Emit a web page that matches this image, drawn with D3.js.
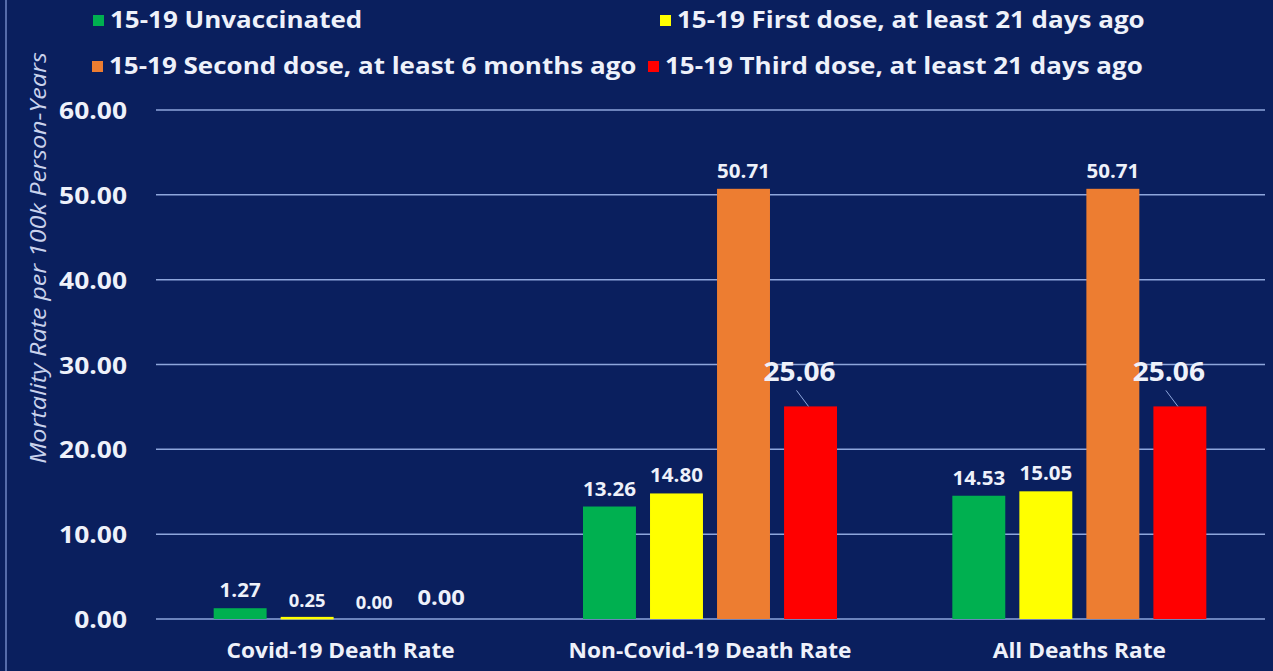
<!DOCTYPE html>
<html><head><meta charset="utf-8">
<script src="https://cdn.jsdelivr.net/npm/d3@7"></script>
<style>html,body{margin:0;padding:0;background:#0a1f5e;overflow:hidden}</style>
</head><body>
<svg id="c" width="1273" height="671"></svg>
<script>
const categories = ["Covid-19 Death Rate", "Non-Covid-19 Death Rate", "All Deaths Rate"];
const seriesNames = ["15-19 Unvaccinated", "15-19 First dose, at least 21 days ago", "15-19 Second dose, at least 6 months ago", "15-19 Third dose, at least 21 days ago"];
const unvaccinated = [1.27, 13.26, 14.53];
const firstDose = [0.25, 14.80, 15.05];
const secondDose = [0.00, 50.71, 50.71];
const thirdDose = [0.00, 25.06, 25.06];
const yTicks = [0, 10, 20, 30, 40, 50, 60];
const colors = ["#00b050", "#ffff00", "#ed7d31", "#ff0000"];
const yTitle = "Mortality Rate per 100k Person-Years";

const seriesValues = [unvaccinated, firstDose, secondDose, thirdDose];
const svg = d3.select("#c");
const font = "'Open Sans', sans-serif";
const txt = "#eef1fa";

function stretch(sel, k) {
  sel.each(function(){
    const w = this.getComputedTextLength();
    d3.select(this).attr("textLength", w*k).attr("lengthAdjust","spacingAndGlyphs");
  });
}

svg.append("rect").attr("width",1273).attr("height",671).attr("fill","#0a1f5e");
svg.append("line").attr("x1",6).attr("x2",6).attr("y1",0).attr("y2",671).attr("stroke","#6f86c4").attr("stroke-width",1.5);

const y = d3.scaleLinear().domain([0,60]).range([619,110]);
const x0 = d3.scaleBand().domain(categories).range([156,1264]).padding(0);
const groupW = 254;
const x1 = d3.scaleBand().domain(d3.range(4)).range([0,groupW]).paddingInner(0.21).paddingOuter(0);

// gridlines
svg.append("g").selectAll("line").data(yTicks).join("line")
  .attr("x1",156).attr("x2",1265).attr("y1",d=>y(d)).attr("y2",d=>y(d))
  .attr("stroke","#8ea6dc").attr("stroke-width",1.5);

// y axis labels
const yAxis = d3.axisLeft(y).tickValues(yTicks).tickFormat(d3.format(".2f")).tickSize(0).tickPadding(0);
const ga = svg.append("g").attr("transform","translate(127,0)").call(yAxis);
ga.select(".domain").remove();
ga.selectAll("text").attr("fill",txt).attr("font-family",font).attr("font-weight","bold").attr("font-size",24).attr("dy","0.36em");
stretch(ga.selectAll("text"), 1.1);

// y title
const yt = svg.append("text").attr("transform","translate(46,258) rotate(-90)").attr("text-anchor","middle")
  .attr("font-family",font).attr("font-style","italic").attr("font-size",21).attr("fill","#c9d2ec").text(yTitle);
stretch(yt, 1.2);

// bars
const data = [];
categories.forEach((c,ci)=>seriesValues.forEach((s,si)=>data.push({c,ci,si,v:s[ci]})));
const gx = d => x0(d.c) + (x0.bandwidth()-groupW)/2 + x1(d.si);
svg.append("g").selectAll("rect").data(data).join("rect")
  .attr("x",gx).attr("width",x1.bandwidth())
  .attr("y",d=>y(d.v)).attr("height",d=>Math.max(y(0)-y(d.v), d.v>0?2.5:0))
  .attr("fill",d=>colors[d.si]);

// value labels
const lbl = svg.append("g");
data.forEach(d=>{
  const cx = gx(d) + x1.bandwidth()/2;
  const top = y(d.v);
  const t = lbl.append("text").attr("text-anchor","middle").attr("font-family",font).attr("font-weight","bold").attr("fill",txt).text(d.v.toFixed(2));
  if (d.si === 3) {
    if (d.v > 1) {
      lbl.append("line").attr("x1",cx-2).attr("y1",top).attr("x2",cx-14).attr("y2",top-16).attr("stroke","#8ea6dc").attr("stroke-width",1);
      t.attr("x",cx-11).attr("y",top-25).attr("font-size",26);
    } else {
      t.attr("x",cx).attr("y",top-14).attr("font-size",22);
    }
  } else if (d.ci === 0 && d.si > 0) {
    t.attr("x",cx).attr("y",top-10).attr("font-size",17);
  } else {
    t.attr("x",cx).attr("y",top-11).attr("font-size",19);
  }
});
stretch(lbl.selectAll("text"), 1.08);

// category labels
const cl = svg.append("g").selectAll("text").data(categories).join("text")
  .attr("x",d=>x0(d)+x0.bandwidth()/2).attr("y",658).attr("text-anchor","middle")
  .attr("font-family",font).attr("font-weight","bold").attr("font-size",21).attr("fill",txt).text(d=>d);
stretch(cl, 1.08);

// legend
const legPos = [[93,20],[660,20],[92,66],[648,66]];
const lg = svg.append("g");
seriesNames.forEach((n,i)=>{
  const [lx,ly] = legPos[i];
  lg.append("rect").attr("x",lx).attr("y",ly-5).attr("width",11).attr("height",11).attr("fill",colors[i]);
  lg.append("text").attr("x",lx+17).attr("y",ly).attr("dy","0.36em").attr("font-family",font).attr("font-weight","bold").attr("font-size",23).attr("fill",txt).text(n);
});
stretch(lg.selectAll("text"), 1.13);
</script>
</body></html>
